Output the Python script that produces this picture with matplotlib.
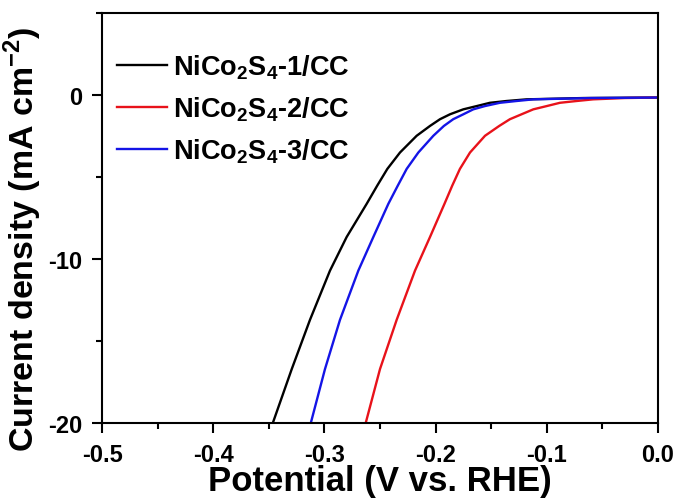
import matplotlib
matplotlib.use("Agg")
import matplotlib.pyplot as plt
from matplotlib.ticker import MultipleLocator, FormatStrFormatter

# Values (V vs. RHE, mA cm^-2)
cur = [-20.0, -16.7, -13.7, -10.7, -8.65, -6.63, -5.52, -4.50, -3.50, -2.48,
       -1.88, -1.47, -1.17, -0.87, -0.67, -0.47, -0.36, -0.26, -0.18, -0.15]

pot_1 = [-0.3465, -0.3294, -0.3130, -0.2950, -0.2800, -0.2620, -0.2525, -0.2434, -0.2320, -0.2170,
         -0.2050, -0.1960, -0.1870, -0.1751, -0.1630, -0.1511, -0.1360, -0.1181, -0.0670, 0.0]

pot_2 = [-0.2629, -0.2500, -0.2350, -0.2185, -0.2050, -0.1920, -0.1850, -0.1781, -0.1690, -0.1555,
         -0.1427, -0.1331, -0.1226, -0.1121, -0.1000, -0.0881, -0.0730, -0.0582, -0.0300, 0.0]

pot_3 = [-0.3123, -0.2995, -0.2860, -0.2695, -0.2560, -0.2425, -0.2340, -0.2260, -0.2155, -0.2020,
         -0.1925, -0.1841, -0.1750, -0.1661, -0.1556, -0.1421, -0.1270, -0.1121, -0.0600, 0.0]

labels = [r"NiCo$_\mathbf{2}$S$_\mathbf{4}$-1/CC",
          r"NiCo$_\mathbf{2}$S$_\mathbf{4}$-2/CC",
          r"NiCo$_\mathbf{2}$S$_\mathbf{4}$-3/CC"]

plt.rcParams["font.family"] = ["Liberation Sans", "DejaVu Sans"]
plt.rcParams["font.weight"] = "bold"
plt.rcParams["axes.unicode_minus"] = False
plt.rcParams["mathtext.fontset"] = "custom"
plt.rcParams["mathtext.rm"] = "Liberation Sans:bold"
plt.rcParams["mathtext.bf"] = "Liberation Sans:bold"

fig = plt.figure(figsize=(6.81, 5.02), dpi=100)
ax = fig.add_axes([0.150, 0.155, 0.816, 0.817])

line_kw = dict(lw=1.7, solid_joinstyle="round")
ax.plot(pot_1, cur, color="black", label=labels[0], **line_kw)
ax.plot(pot_2, cur, color="#e8121a", label=labels[1], **line_kw)
ax.plot(pot_3, cur, color="#1414e6", label=labels[2], **line_kw)

ax.set_xlim(-0.5, 0.0)
ax.set_ylim(-20, 5)
ax.xaxis.set_major_locator(MultipleLocator(0.1))
ax.xaxis.set_minor_locator(MultipleLocator(0.05))
ax.yaxis.set_major_locator(MultipleLocator(10))
ax.yaxis.set_minor_locator(MultipleLocator(5))
ax.xaxis.set_major_formatter(FormatStrFormatter("%.1f"))

for sp in ax.spines.values():
    sp.set_linewidth(1.5)
ax.tick_params(which="major", direction="out", length=7, width=1.5, labelsize=17)
ax.tick_params(which="minor", direction="out", length=4, width=1.5)
ax.tick_params(axis="x", which="major", pad=7)
ax.tick_params(axis="y", which="major", pad=7)

ax.set_xlabel("Potential (V vs. RHE)", fontsize=25, fontweight="bold", labelpad=-1)
ax.set_ylabel(r"Current density (mA cm$^{\mathbf{-2}}$)", fontsize=24.5, fontweight="bold")
ax.yaxis.set_label_coords(-0.105, 0.45)

ax.legend(loc="upper left", bbox_to_anchor=(0.027, 0.905), frameon=False, fontsize=19.5,
          handlelength=1.85, handletextpad=0.2, labelspacing=0.5,
          borderpad=0, borderaxespad=0)

fig.savefig("out.png", dpi=100)
